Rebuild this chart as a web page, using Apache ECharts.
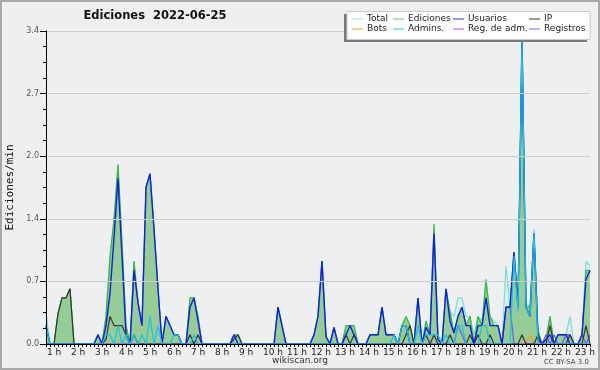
<!DOCTYPE html>
<html><head><meta charset="utf-8">
<script src="https://cdn.jsdelivr.net/npm/echarts@6/dist/echarts.min.js"></script>
<style>html,body{margin:0;padding:0;background:#eeeff1}#c{width:600px;height:370px}</style>
</head><body><div id="c"></div>
<script>
// hour tick labels (one every 6 ten-minute bins)
const hourLabels = ['1 h','2 h','3 h','4 h','5 h','6 h','7 h','8 h','9 h','10 h','11 h','12 h','13 h','14 h','15 h','16 h','17 h','18 h','19 h','20 h','21 h','22 h','23 h'];
const yTicks = [0, 0.68, 1.36, 2.04, 2.72, 3.4];
// edits per minute, 10-minute bins, 6 values per hour
const total = [
 0.35,0,0,0.33,0.5,0.5,  0.6,0,0,0,0,0,  0,0.1,0,0.3,0.95,1.35,  1.95,1.1,0.2,0,0.9,0.45,
 0.2,1.7,1.85,1.25,0.6,0,  0.3,0.2,0.1,0.1,0,0,  0.5,0.5,0.3,0,0,0,  0,0,0,0,0,0.1,
 0.1,0,0,0,0,0,  0,0,0,0,0.4,0.2,  0,0,0,0,0,0,  0,0.1,0.3,0.9,0.08,0,
 0.18,0,0,0.2,0.2,0.2,  0,0,0,0.1,0.1,0.1,  0.4,0.1,0.1,0.1,0,0.2,  0.3,0.2,0,0.5,0,0.25,
 0.1,1.3,0.05,0,0.6,0.35,  0.3,0.5,0.5,0.3,0.3,0.1,  0.3,0.25,0.7,0.3,0.25,0.2,  0,0.85,0.4,1.0,0.45,3.4,
 0.45,0.4,1.25,0.15,0,0.05,  0.3,0,0.1,0.1,0.1,0.3,  0,0,0.1,0.9,0.85];
const ediciones = [
 0.2,0,0,0.33,0.5,0.5,  0.6,0,0,0,0,0,  0,0.1,0,0.3,0.95,1.35,  1.95,1.1,0.2,0,0.9,0.45,
 0.2,1.7,1.85,1.25,0.6,0,  0.3,0.2,0.1,0.1,0,0,  0.5,0.5,0.3,0,0,0,  0,0,0,0,0,0.1,
 0.1,0,0,0,0,0,  0,0,0,0,0.4,0.2,  0,0,0,0,0,0,  0,0.1,0.3,0.9,0.08,0,
 0.18,0,0,0.2,0.2,0.2,  0,0,0,0.1,0.1,0.1,  0.4,0.1,0.1,0.1,0,0.2,  0.3,0.2,0,0.5,0,0.25,
 0.1,1.3,0.05,0,0.6,0.35,  0.12,0.3,0.4,0.2,0.3,0,  0.3,0.2,0.7,0.3,0.2,0.2,  0,0.4,0.4,1.0,0.4,3.4,
 0.4,0.4,1.2,0.15,0,0.05,  0.3,0,0.1,0.1,0.1,0.1,  0,0,0.1,0.8,0.8];
const usuarios = [
 0.2,0,0,0,0,0,  0,0,0,0,0,0,  0,0.1,0,0.2,0.55,1.15,  1.8,0.95,0.1,0,0.8,0.45,
 0.2,1.7,1.85,1.25,0.6,0,  0.3,0.2,0.1,0.1,0,0,  0.4,0.5,0.25,0,0,0,  0,0,0,0,0,0.1,
 0,0,0,0,0,0,  0,0,0,0,0.4,0.2,  0,0,0,0,0,0,  0,0.1,0.3,0.9,0.08,0,
 0.18,0,0,0.1,0.2,0.1,  0,0,0,0.1,0.1,0.1,  0.4,0.1,0.1,0.1,0,0.2,  0.2,0,0,0.5,0,0.18,
 0.1,1.2,0.05,0,0.6,0.25,  0.12,0.3,0.4,0.2,0.2,0,  0.2,0.2,0.5,0.2,0.2,0.2,  0,0.4,0.4,1.0,0.4,3.3,
 0.4,0.3,1.2,0.05,0,0.05,  0.1,0,0.1,0.1,0.1,0,  0,0,0.1,0.7,0.8];
const ip = [
 0,0,0,0.33,0.5,0.5,  0.6,0,0,0,0,0,  0,0,0,0.05,0.3,0.2,  0.2,0.2,0.1,0,0.1,0,
 0,0,0,0,0,0,  0,0,0,0,0,0,  0.1,0,0.1,0,0,0,  0,0,0,0,0,0.05,
 0.1,0,0,0,0,0,  0,0,0,0,0,0,  0,0,0,0,0,0,  0,0,0,0,0,0,
 0,0,0,0.1,0,0.1,  0,0,0,0,0,0,  0,0,0,0,0,0,  0.1,0.2,0,0,0,0.1,
 0,0.1,0,0,0,0.1,  0,0,0,0,0.1,0,  0.1,0,0,0.1,0,0,  0,0,0,0,0,0.1,
 0,0,0,0.1,0,0,  0.2,0,0,0,0,0.1,  0,0,0,0.2,0];
const bots = [
 0,0,0,0,0,0,  0,0,0,0,0,0,  0,0,0,0,0,0,  0,0,0,0,0,0,
 0,0,0,0,0,0,  0,0,0,0,0,0,  0,0,0,0,0,0,  0,0,0,0,0,0,
 0,0,0,0,0,0,  0,0,0,0,0,0,  0,0,0,0,0,0,  0,0,0,0,0,0,
 0,0,0,0,0,0,  0,0,0,0,0,0,  0,0,0,0,0,0,  0,0,0,0,0,0,
 0,0,0,0,0,0,  0,0,0,0,0,0,  0,0,0,0,0,0,  0,0,0,0,0,0,
 0,0.1,0,0,0,0,  0,0,0,0,0,0,  0,0,0,0,0];
const admins = [
 0.2,0,0,0,0,0,  0,0,0,0,0,0,  0,0,0,0.1,0.1,0,  0.2,0,0.1,0,0.1,0,
 0.1,0,0.3,0,0.2,0,  0,0,0.1,0.1,0,0,  0,0.1,0,0,0,0,  0,0,0,0,0,0,
 0,0,0,0,0,0,  0,0,0,0,0,0,  0,0,0,0,0,0,  0,0,0,0,0,0,
 0,0,0,0,0,0,  0,0,0,0,0,0,  0,0,0,0.1,0,0.2,  0.2,0,0,0.2,0,0.1,
 0.1,0.1,0.1,0,0.1,0,  0,0.2,0.2,0,0,0,  0,0.2,0.2,0,0,0,  0,0,0,0.95,0.35,3.3,
 0.4,0.3,1.2,0,0,0,  0,0,0,0,0,0,  0,0,0,0,0];
const regAdm = [
 0,0,0,0,0,0,  0,0,0,0,0,0,  0,0,0,0,0,0,  0,0,0,0,0,0,
 0,0,0,0,0,0,  0,0,0,0,0,0,  0,0,0,0,0,0,  0,0,0,0,0,0,
 0,0,0,0,0,0,  0,0,0,0,0,0,  0,0,0,0,0,0,  0,0,0,0,0,0,
 0,0,0,0,0,0,  0,0,0,0,0,0,  0,0,0,0,0,0,  0,0,0,0,0,0,
 0,0,0,0,0,0,  0,0,0,0,0,0,  0,0,0,0,0,0,  0,0,0,0,0,0,
 0,0,0,0,0,0,  0,0,0,0,0,0,  0,0,0,0,0];
const registros = [
 0,0,0,0,0,0,  0,0,0,0,0,0,  0,0,0,0,0,0,  0,0,0,0,0,0,
 0,0,0,0,0,0,  0,0,0,0,0,0,  0,0,0,0,0,0,  0,0,0,0,0,0,
 0,0,0,0,0,0,  0,0,0,0,0,0,  0,0,0,0,0,0,  0,0,0,0,0,0,
 0,0,0,0,0,0,  0,0,0,0,0,0,  0,0,0,0,0,0,  0,0,0,0,0,0,
 0,0,0,0,0,0,  0,0.2,0.1,0,0,0,  0,0,0,0,0,0,  0,0.4,0.4,0,0,0,
 0,0,0,0,0,0.1,  0,0.1,0,0,0.1,0.1,  0,0,0.1,0,0.1];

const categories = [];
for (let i = 0; i < total.length; i++) {
  categories.push((Math.floor(i / 6) + 1) + ':' + (i % 6) + '0');
}

const legendItems = [
  ['Total', '#9fdede'], ['Ediciones', '#66c866'], ['Usuarios', '#3434e0'], ['IP', '#333333'],
  ['Bots', '#f0a030'], ['Admins.', '#30c4e0'], ['Reg. de adm.', '#d040e0'], ['Registros', '#7070f0']
];
const colX = [352, 393, 453, 529];
const rowY = [19, 29];

const chart = echarts.init(document.getElementById('c'), null, {renderer: 'canvas'});

function line(name, data, color, width, z) {
  return {name, type: 'line', data, symbol: 'none', z, lineStyle: {color, width}, itemStyle: {color}, silent: true};
}

const graphics = [
  {type: 'rect', shape: {x: 1, y: 1, width: 598, height: 368}, style: {fill: 'none', stroke: '#a8a8a8', lineWidth: 2}, z: 100},
  {type: 'text', x: 155, y: 16, style: {text: 'Ediciones  2022-06-25', font: 'bold 11.5px "DejaVu Sans"', fill: '#111', textAlign: 'center', textVerticalAlign: 'middle'}, z: 100},
  {type: 'text', x: 300, y: 361, style: {text: 'wikiscan.org', font: '9px "DejaVu Sans"', fill: '#333', textAlign: 'center', textVerticalAlign: 'middle'}, z: 100},
  {type: 'text', x: 589, y: 362, style: {text: 'CC BY-SA 3.0', font: '7px "DejaVu Sans"', fill: '#444', textAlign: 'right', textVerticalAlign: 'middle'}, z: 100},
  {type: 'rect', shape: {x: 344, y: 14, width: 243, height: 28}, style: {fill: '#7a7a7a'}, z: 100},
  {type: 'rect', shape: {x: 347, y: 11.5, width: 243, height: 28}, style: {fill: '#ffffff', stroke: '#cccccc', lineWidth: 1}, z: 101}
];
legendItems.forEach((it, k) => {
  const c = k % 4, r = Math.floor(k / 4);
  graphics.push({type: 'line', shape: {x1: colX[c], y1: rowY[r], x2: colX[c] + 11, y2: rowY[r]}, style: {stroke: it[1], lineWidth: 1}, z: 102});
  graphics.push({type: 'text', x: colX[c] + 15, y: rowY[r], style: {text: it[0], font: '9px "DejaVu Sans"', fill: '#222', textVerticalAlign: 'middle'}, z: 102});
});

chart.setOption({
  animation: false,
  backgroundColor: '#eeeff1',
  grid: {left: 46, right: 10, top: 31, bottom: 26, containLabel: false, outerBoundsMode: 'none'},
  xAxis: {
    type: 'category', data: categories, boundaryGap: false, z: 10,
    axisLine: {lineStyle: {color: '#000', width: 1}},
    axisTick: {interval: 0, length: 3, lineStyle: {color: '#000'}},
    axisLabel: {interval: 5, align: 'left', margin: 4, padding: [0, 0, 0, 1], fontSize: 9, fontFamily: 'DejaVu Sans', color: '#222',
      formatter: (v, i) => hourLabels[Math.floor(i / 6)] || ''},
    splitLine: {show: false}
  },
  yAxis: {
    type: 'value', min: 0, max: 3.4, interval: 0.68, z: 10,
    axisLine: {show: true, lineStyle: {color: '#000'}},
    axisTick: {show: true, length: 6, lineStyle: {color: '#000'}},
    minorTick: {show: true, splitNumber: 4, length: 3, lineStyle: {color: '#000'}},
    axisLabel: {fontSize: 8, color: '#555', fontFamily: 'DejaVu Sans', margin: 7, formatter: v => (+v).toFixed(1)},
    splitLine: {lineStyle: {color: '#cdcdcd', width: 1}},
    name: 'Ediciones/min', nameLocation: 'middle', nameGap: 30,
    nameTextStyle: {fontFamily: 'DejaVu Sans Mono', fontSize: 11, color: '#111'}
  },
  series: [
    Object.assign(line('Total', total, '#7fdada', 1.2, 1), {areaStyle: {color: '#dcf1ee', opacity: 1}}),
    Object.assign(line('Ediciones', ediciones, '#3db43d', 1.2, 2), {areaStyle: {color: '#96cc96', opacity: 1}}),
    line('Bots', bots, '#f0a030', 1.2, 3),
    line('Reg. de adm.', regAdm, '#d040e0', 1.2, 3),
    line('Registros', registros, '#6060f0', 1.2, 3),
    line('IP', ip, '#333333', 1.2, 4),
    line('Usuarios', usuarios, '#1020e0', 1.4, 5),
    line('Admins.', admins, '#20c0e0', 1.2, 6)
  ],
  graphic: graphics
});
</script></body></html>
